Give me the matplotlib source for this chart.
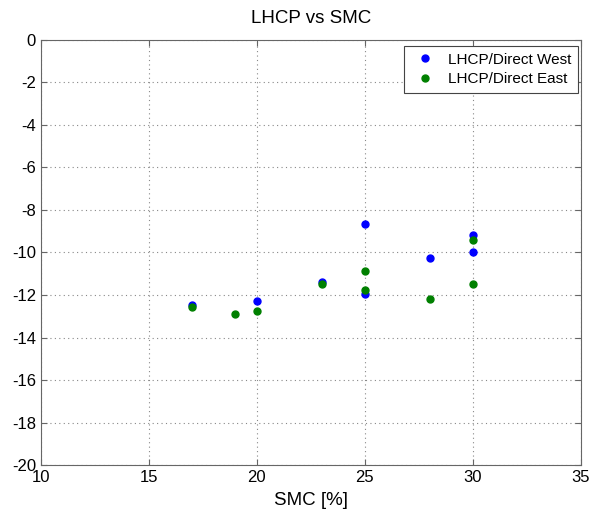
import matplotlib
matplotlib.use("Agg")
import matplotlib.pyplot as plt

plt.rcParams['font.family'] = ['Liberation Sans', 'DejaVu Sans']
plt.rcParams['axes.unicode_minus'] = False

# LHCP/Direct West
smc_west = [17, 20, 23, 25, 25, 28, 30, 30]
lhcp_west = [-12.45, -12.27, -11.40, -8.67, -11.96, -10.28, -9.19, -10.0]
# LHCP/Direct East
smc_east = [17, 19, 20, 23, 25, 25, 28, 30, 30]
lhcp_east = [-12.56, -12.89, -12.76, -11.49, -10.86, -11.77, -12.21, -9.42, -11.49]

xticks = [10, 15, 20, 25, 30, 35]
yticks = [-20, -18, -16, -14, -12, -10, -8, -6, -4, -2, 0]

fig = plt.figure(figsize=(5.91, 5.19), dpi=100)
ax = fig.add_axes([0.069, 0.104, 0.914, 0.819])

ax.plot(smc_west, lhcp_west, 'o', color='#0000ff', ms=5, mec='#0000ff', label='LHCP/Direct West')
ax.plot(smc_east, lhcp_east, 'o', color='#008000', ms=5, mec='#008000', label='LHCP/Direct East')

ax.set_xlim(10, 35)
ax.set_ylim(-20, 0)
ax.set_xticks(xticks)
ax.set_yticks(yticks)
ax.grid(True, linestyle=(0, (1, 3)), color='#888888', linewidth=0.8)
ax.tick_params(direction='in', top=True, right=True, labelsize=12, length=4, color='#666666')
for s in ax.spines.values():
    s.set_color('#666666')

ax.set_title('LHCP vs SMC', fontsize=13.5, pad=12)
ax.set_xlabel('SMC [%]', fontsize=13.5, labelpad=5)

leg = ax.legend(loc='upper right', fontsize=11, fancybox=False, framealpha=1,
                edgecolor='#444444', handlelength=1.8, handletextpad=0.6,
                borderpad=0.45, labelspacing=0.35,
                bbox_to_anchor=(1.0085, 1.004))
leg.get_frame().set_linewidth(0.8)

fig.savefig('out.png', dpi=100)
